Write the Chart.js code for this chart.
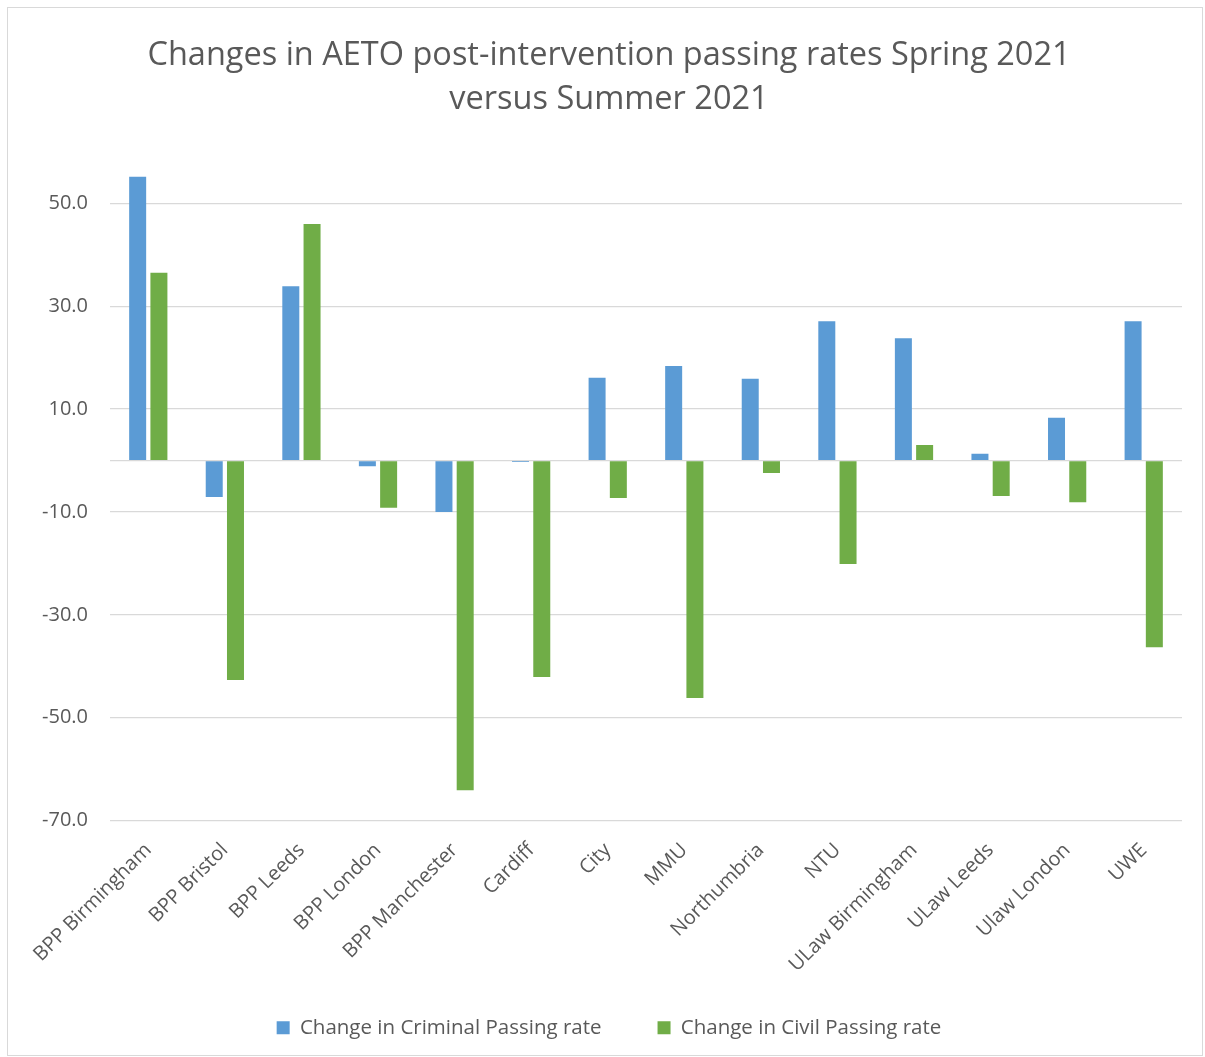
<!DOCTYPE html>
<html>
<head>
  <title>AETO passing rates</title>
  <script src="https://cdn.jsdelivr.net/npm/chart.js"></script>
  <style>
    body { margin: 0; background: #fff; }
    #wrap { position: absolute; left: 7px; top: 7px; width: 1194px; height: 1047px; border: 1px solid #d9d9d9; }
  </style>
</head>
<body>
  <div id="wrap"><canvas id="myChart"></canvas></div>

  <script>
    // Data
    var categories = ['BPP Birmingham', 'BPP Bristol', 'BPP Leeds', 'BPP London', 'BPP Manchester',
      'Cardiff', 'City', 'MMU', 'Northumbria', 'NTU', 'ULaw Birmingham', 'ULaw Leeds', 'Ulaw London', 'UWE'];
    var criminal = [55.2, -7.1, 33.9, -1.1, -10.0, -0.3, 16.1, 18.4, 15.9, 27.1, 23.8, 1.3, 8.3, 27.1];
    var civil = [36.5, -42.7, 46.0, -9.2, -64.1, -42.1, -7.3, -46.2, -2.4, -20.1, 3.0, -6.9, -8.1, -36.3];
    var yTicks = [-70, -50, -30, -10, 0, 10, 30, 50];

    var textColor = '#595959';
    var fontFamily = "'Open Sans', 'Liberation Sans', sans-serif";

    var data = {
      labels: categories,
      datasets: [{
        label: 'Change in Criminal Passing rate',
        data: criminal,
        backgroundColor: '#5b9bd5',
        borderWidth: 0
      }, {
        label: 'Change in Civil Passing rate',
        data: civil,
        backgroundColor: '#70ad47',
        borderWidth: 0
      }]
    };

    // the x labels are taller than the axis box we ask for, so stop them being clipped
    var unclipLabels = {
      id: 'unclipLabels',
      afterLayout: function (chart) {
        chart.scales.x.bottom += 40;
      }
    };

    var options = {
      responsive: true,
      maintainAspectRatio: false,
      animation: false,
      datasets: {
        bar: { barPercentage: 0.8, categoryPercentage: 0.555 }
      },
      layout: { padding: { left: 8, right: 0, top: 26, bottom: 7 } },
      scales: {
        x: {
          grid: { display: false },
          border: { display: false },
          afterFit: function (axis) { axis.height = 141; },
          ticks: {
            color: textColor,
            font: { family: fontFamily, size: 20 },
            minRotation: 45,
            maxRotation: 45,
            padding: 10
          }
        },
        y: {
          min: -70,
          max: 60,
          afterBuildTicks: function (axis) {
            axis.ticks = yTicks.map(function (v) { return { value: v }; });
          },
          afterFit: function (axis) { axis.width = 94; },
          grid: { color: '#d9d9d9', lineWidth: 1.3, drawTicks: false },
          border: { display: false },
          ticks: {
            color: textColor,
            font: { family: fontFamily, size: 20 },
            padding: 22,
            callback: function (v) { return v === 0 ? '' : v.toFixed(1); }
          }
        },
        yRight: {
          position: 'right',
          afterFit: function (axis) { axis.width = 20; },
          grid: { display: false },
          border: { display: false },
          ticks: { display: false }
        }
      },
      plugins: {
        title: {
          display: true,
          text: ['Changes in AETO post-intervention passing rates Spring 2021', 'versus Summer 2021'],
          color: textColor,
          font: { family: fontFamily, size: 32.5, weight: 'normal', lineHeight: '44px' },
          padding: { top: 0, bottom: 30 }
        },
        legend: {
          position: 'bottom',
          labels: {
            color: textColor,
            font: { family: fontFamily, size: 20.5 },
            boxWidth: 13,
            boxHeight: 13,
            padding: 56
          }
        },
        tooltip: { enabled: false }
      }
    };

    var ctx = document.getElementById('myChart').getContext('2d');
    var myChart = new Chart(ctx, {
      type: 'bar',
      data: data,
      options: options,
      plugins: [unclipLabels]
    });
  </script>
</body>
</html>
